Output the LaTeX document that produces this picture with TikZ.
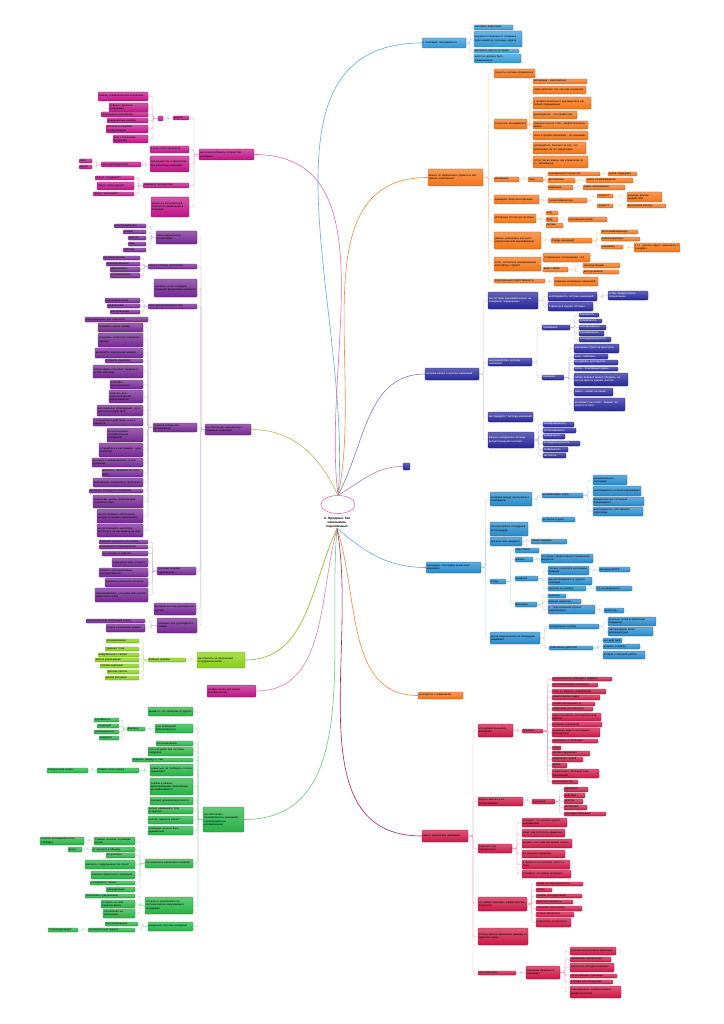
\documentclass[tikz,border=0pt]{standalone}
\usepackage{fontspec}
\setmainfont{Liberation Sans}
\usetikzlibrary{calc,shapes.geometric}
\definecolor{cT}{HTML}{2F98D8}
\definecolor{cO}{HTML}{F47316}
\definecolor{cI}{HTML}{26269A}
\definecolor{cP}{HTML}{2589CC}
\definecolor{cR}{HTML}{CC1644}
\definecolor{cM}{HTML}{C01286}
\definecolor{cU}{HTML}{742692}
\definecolor{cL}{HTML}{88D014}
\definecolor{cG}{HTML}{25B245}
\newcommand\sz{\fontsize{2.7}{3.15}\selectfont}
\tikzset{
 bxs/.style={rounded corners=1pt, inner xsep=0.8pt, inner ysep=0.3pt, font=\sz, align=left,
   draw=#1!70!black, line width=0.15pt, top color=#1!72!white, bottom color=#1, text=black},
 tb/.style={bxs=cT}, ob/.style={bxs=cO}, ib/.style={bxs=cI,text=white}, pb/.style={bxs=cP},
 rb/.style={bxs=cR}, mb/.style={bxs=cM}, ub/.style={bxs=cU}, lb/.style={bxs=cL}, gb/.style={bxs=cG},
 cn/.style={draw=#1, line width=0.35pt, rounded corners=2pt},
 lT/.style={cn=cT!40!white}, lO/.style={cn=cO!40!white}, lI/.style={cn=cI!30!white},
 lP/.style={cn=cP!40!white}, lR/.style={cn=cR!40!white}, lM/.style={cn=cM!40!white},
 lU/.style={cn=cU!35!white}, lL/.style={cn=cL!50!white}, lG/.style={cn=cG!45!white},
 mc/.style={draw=#1, line width=0.6pt},
}
\newcommand\Bx[7]{\pgfmathsetmacro\bw{#5-#3}\pgfmathsetmacro\bh{#6-#4}\pgfmathsetmacro\bt{#5-#3-1.6}%
 \pgfmathsetmacro\bxc{(#3+#5)/2}\pgfmathsetmacro\byc{(#4+#6)/2}%
 \node[#1,minimum width=\bw pt,minimum height=\bh pt,text width=\bt pt] (#2) at (\bxc,\byc) {#7};}
\newcommand\conR[3]{\foreach \ch in {#3}{\draw[#1] let \p1=(#2.east), \p2=(\ch.west) in (\p1) -- ({(\x1+\x2)/2},\y1) |- (\p2);}}
\newcommand\conL[3]{\foreach \ch in {#3}{\draw[#1] let \p1=(#2.west), \p2=(\ch.east) in (\p1) -- ({(\x1+\x2)/2},\y1) |- (\p2);}}
\begin{document}
\begin{tikzpicture}[x=1pt,y=-1pt]
\fill[white] (0,0) rectangle (723,1024);
\useasboundingbox (0,0) rectangle (723,1024);
% centre
\node[draw=cM!70, line width=0.5pt, ellipse, minimum width=34pt, minimum height=18pt] (ell) at (338,504.5) {};
\node[font=\bfseries\fontsize{3.2}{3.8}\selectfont, align=center, inner sep=0.5pt] (ttl) at (337,522.5) {А. Фридман. Как\\наказывать\\подчиненных};
% ===== teal
\Bx{tb}{t0}{422}{38}{466}{48}{о "зоопарке" менеджмента}
\Bx{tb}{t1}{474}{25}{513}{30}{полезные персонажи}
\Bx{tb}{t2}{474}{31}{522}{47}{научиться получать от полезных персонажей их полезные задачи}
\Bx{tb}{t3}{474}{49}{519}{53}{увольнять никого не нужно}
\Bx{tb}{t4}{474}{54}{521}{63}{никто не должен быть незаменимым}
\conR{lT}{t0}{t1,t2,t3,t4}
% ===== orange
\Bx{ob}{o0}{428}{169}{483}{186}{можно ли эффективно управлять без умения наказывать?}
\Bx{ob}{o1}{494}{69}{535}{78}{точность системы управления}
\Bx{ob}{o2}{494}{119}{527}{129}{постулаты менеджмента}
\Bx{ob}{o21}{533}{79}{587}{84}{мотивация - комплексная}
\Bx{ob}{o22}{533}{86}{586}{94}{люди работают так, как ими управляют}
\Bx{ob}{o23}{533}{97}{591}{109}{у профессионального руководителя нет плохих подчиненных}
\Bx{ob}{o24}{533}{111}{577}{119}{руководитель - это профессия}
\Bx{ob}{o25}{533}{121}{588}{129}{лидером нельзя стать, профессионалом - можно}
\Bx{ob}{o26}{533}{131}{588}{140}{опыт и профессионализм - не синонимы}
\Bx{ob}{o27}{533}{142}{586}{154}{руководитель отвечает за все, что происходит на его территории}
\Bx{ob}{o28}{533}{156}{588}{168}{отбор так же важен, как управление (в т.ч. мотивация)}
\Bx{ob}{o3}{494}{177}{519}{182}{мотивация}
\Bx{ob}{o31}{528}{177}{543}{182}{типы}
\Bx{ob}{o311}{548}{172}{600}{176}{принадлежность/участие}
\Bx{ob}{o312}{608}{172}{637}{176}{нужна поддержка}
\Bx{ob}{o313}{548}{178}{575}{183}{достижение}
\Bx{ob}{o314}{586}{178}{633}{183}{нужно вознаграждение}
\Bx{ob}{o315}{548}{185}{573}{190}{избегание}
\Bx{ob}{o316}{583}{185}{625}{190}{нужно принуждение}
\Bx{ob}{o4}{494}{195}{539}{204}{принципы проф.эксплуатации}
\Bx{ob}{o41}{548}{198}{587}{203}{теория Макгрегора}
\Bx{ob}{o42}{597}{194}{613}{198}{теория X}
\Bx{ob}{o43}{627}{192}{662}{202}{внешние формы воздействия}
\Bx{ob}{o44}{597}{204}{613}{208}{теория Y}
\Bx{ob}{o45}{627}{204}{666}{208}{внутренние методы}
\Bx{ob}{o5}{494}{214}{536}{223}{мотивация против дисциплины}
\Bx{ob}{o51}{546}{211}{558}{215}{хочу}
\Bx{ob}{o52}{546}{217}{558}{222}{буду}
\Bx{ob}{o53}{546}{223}{563}{228}{должен}
\Bx{ob}{o54}{568}{217}{607}{222}{осознанный выбор}
\Bx{ob}{o6}{494}{232}{541}{249}{умение наказывать как часть управленческой квалификации}
\Bx{ob}{o61}{551}{238}{592}{243}{3 вида наказаний}
\Bx{ob}{o62}{601}{230}{638}{234}{восстанавливающее}
\Bx{ob}{o63}{601}{237}{640}{241}{компенсирующее}
\Bx{ob}{o64}{601}{245}{623}{249}{наказание}
\Bx{ob}{o65}{634}{243}{680}{252}{в т.ч. умение скрыто наказывать и поощрять}
\Bx{ob}{o7}{494}{257}{541}{271}{стоит ли бояться возникновения атмосферы страха?}
\Bx{ob}{o71}{543}{253}{590}{262}{оптимальное соотношение - 4:1}
\Bx{ob}{o72}{543}{267}{568}{272}{виды страха}
\Bx{ob}{o73}{583}{263}{620}{268}{конструктивный}
\Bx{ob}{o74}{583}{270}{619}{274}{деструктивный}
\Bx{ob}{o8}{494}{279}{545}{283}{персональная ответственность}
\Bx{ob}{o81}{554}{277}{598}{286}{перечень возможных наказаний}
\conR{lO}{o0}{o1,o2,o3,o4,o5,o6,o7,o8}
\conR{lO}{o2}{o21,o22,o23,o24,o25,o26,o27,o28}
\conR{lO}{o3}{o31}\conR{lO}{o31}{o311,o313,o315}
\conR{lO}{o311}{o312}\conR{lO}{o313}{o314}\conR{lO}{o315}{o316}
\conR{lO}{o4}{o41}\conR{lO}{o41}{o42,o44}\conR{lO}{o42}{o43}\conR{lO}{o44}{o45}
\conR{lO}{o5}{o51,o52,o53}\conR{lO}{o52}{o54}
\conR{lO}{o6}{o61}\conR{lO}{o61}{o62,o63,o64}\conR{lO}{o64}{o65}
\conR{lO}{o7}{o71,o72}\conR{lO}{o72}{o73,o74}
\conR{lO}{o8}{o81}
% ===== indigo
\Bx{ib}{i0}{425}{368}{479}{380}{система мягких и жестких наказаний}
\Bx{ib}{i1}{488}{292}{538}{309}{как система наказаний влияет на поведение подчиненных}
\Bx{ib}{i11}{548}{292}{597}{301}{необходимость системы наказаний}
\Bx{ib}{i12}{608}{291}{648}{300}{чтобы правила были прозрачными}
\Bx{ib}{i13}{548}{302}{593}{311}{5 факторов оценки системы}
\Bx{ib}{i2}{488}{358}{532}{366}{как разработать систему наказаний}
\Bx{ib}{i21}{542}{325}{570}{330}{требования}
\Bx{ib}{i211}{579}{313}{599}{317}{понятность}
\Bx{ib}{i212}{579}{319}{602}{323}{прозрачность}
\Bx{ib}{i213}{579}{325}{606}{330}{неотвратимость}
\Bx{ib}{i214}{579}{331}{604}{336}{соразмерность}
\Bx{ib}{i215}{579}{337}{611}{342}{последовательность}
\Bx{ib}{i22}{542}{375}{564}{380}{принципы}
\Bx{ib}{i221}{574}{344}{619}{353}{наказание строго за проступок}
\Bx{ib}{i222}{574}{354}{608}{359}{вина - публично}
\Bx{ib}{i223}{574}{360}{618}{365}{не унижать достоинство}
\Bx{ib}{i224}{574}{367}{618}{371}{после - позитивный прием}
\Bx{ib}{i225}{574}{373}{628}{386}{любое правило можно обсудить, но нельзя менять задним числом}
\Bx{ib}{i226}{574}{388}{613}{396}{забыл - значит не понял}
\Bx{ib}{i227}{574}{398}{625}{411}{не бывает "не успел" - бывает "не захотел успеть"}
\Bx{ib}{i3}{488}{412}{533}{422}{как "внедрять" систему наказаний}
\Bx{ib}{i4}{488}{432}{534}{448}{вопросы внедрения системы дисциплинарной политики}
\Bx{ib}{i41}{543}{422}{574}{427}{своевременность}
\Bx{ib}{i42}{543}{428}{576}{433}{согласованность}
\Bx{ib}{i43}{543}{434}{565}{439}{прозрачность}
\Bx{ib}{i44}{543}{441}{580}{446}{последовательность}
\Bx{ib}{i45}{543}{447}{568}{452}{стабильность}
\Bx{ib}{i46}{543}{453}{566}{458}{честность}
\conR{lI}{i0}{i1,i2,i3,i4}
\conR{lI}{i1}{i11,i13}\conR{lI}{i11}{i12}
\conR{lI}{i2}{i21,i22}\conR{lI}{i21}{i211,i212,i213,i214,i215}
\conR{lI}{i22}{i221,i222,i223,i224,i225,i226,i227}
\conR{lI}{i4}{i41,i42,i43,i44,i45,i46}
\Bx{ib}{s0}{403}{463}{410}{470}{}
% ===== procedure blue
\Bx{pb}{p0}{426}{562}{481}{573}{процедура и методика вынесения наказания}
\Bx{pb}{p1}{490}{492}{532}{506}{интервал между проступком и наказанием}
\Bx{pb}{p11}{542}{493}{583}{498}{не наказывать сразу}
\Bx{pb}{p111}{593}{475}{627}{485}{эмоциональное состояние}
\Bx{pb}{p112}{593}{486}{641}{496}{необходимость полной информации}
\Bx{pb}{p113}{593}{497}{644}{506}{эмоциональное состояние подчиненного}
\Bx{pb}{p114}{593}{507}{643}{516}{необходимость собственной подготовки}
\Bx{pb}{p12}{542}{517}{575}{522}{не более 2 дней}
\Bx{pb}{p2}{490}{522}{528}{536}{как приглашать сотрудника на процедуру}
\Bx{pb}{p3}{490}{537}{522}{546}{при всех или наедине?}
\Bx{pb}{p31}{531}{539}{567}{544}{только наедине}
\Bx{pb}{p4}{490}{579}{506}{584}{этапы}
\Bx{pb}{p41}{515}{548}{539}{553}{подготовка}
\Bx{pb}{p42}{515}{557}{533}{562}{начало}
\Bx{pb}{p421}{541}{554}{593}{563}{10 правил эффективного применения вопросов}
\Bx{pb}{p43}{515}{576}{538}{581}{конфликт}
\Bx{pb}{p431}{548}{566}{589}{575}{тренинг усилителя негативных реакций}
\Bx{pb}{p432}{599}{567}{630}{572}{методика BOFF}
\Bx{pb}{p433}{548}{577}{592}{585}{как разговаривать в трудной ситуации}
\Bx{pb}{p434}{548}{586}{586}{591}{"вычеты за ошибку"}
\Bx{pb}{p435}{596}{586}{632}{591}{0:1 контраргумент}
\Bx{pb}{p44}{515}{602}{537}{607}{фиксация}
\Bx{pb}{p441}{548}{594}{566}{598}{решение}
\Bx{pb}{p442}{548}{599}{581}{604}{важные моменты}
\Bx{pb}{p443}{548}{605}{595}{614}{п. "персональной стрелы" подчиненного}
\Bx{pb}{p444}{604}{608}{624}{613}{проблемы}
\Bx{pb}{p5}{490}{632}{540}{644}{выход подчиненного из процедуры наказания}
\Bx{pb}{p51}{549}{624}{599}{629}{исправление ошибки}
\Bx{pb}{p511}{608}{617}{656}{626}{указание путей исправления поведения}
\Bx{pb}{p512}{608}{627}{653}{636}{"заглаживание вины" руководителем}
\Bx{pb}{p52}{549}{646}{593}{650}{позитивные действия}
\Bx{pb}{p521}{603}{638}{622}{643}{нет действий}
\Bx{pb}{p522}{603}{644}{640}{649}{немного похвалы}
\Bx{pb}{p523}{603}{651}{645}{659}{возврат к обычной работе}
\conR{lP}{p0}{p1,p2,p3,p4,p5}
\conR{lP}{p1}{p11,p12}\conR{lP}{p11}{p111,p112,p113,p114}
\conR{lP}{p3}{p31}
\conR{lP}{p4}{p41,p42,p43,p44}\conR{lP}{p42}{p421}
\conR{lP}{p43}{p431,p433,p434}\conR{lP}{p431}{p432}\conR{lP}{p434}{p435}
\conR{lP}{p44}{p441,p442,p443}\conR{lP}{p443}{p444}
\conR{lP}{p5}{p51,p52}\conR{lP}{p51}{p511,p512}\conR{lP}{p52}{p521,p522,p523}
% ===== small orange
\Bx{ob}{q0}{418}{692}{463}{699}{не медлите с наказанием}
% ===== red
\Bx{rb}{r0}{422}{830}{468}{842}{цели и результаты наказания}
\Bx{rb}{r1}{478}{724}{513}{737}{что должно вызывать наказание}
\Bx{rb}{r11}{522}{729}{543}{733}{признаки}
\Bx{rb}{r1a}{552}{677}{612}{681}{неспособность соблюдать правила}
\Bx{rb}{r1b}{552}{683}{598}{687}{систематические опоздания}
\Bx{rb}{r1c}{552}{689}{606}{694}{ложь и сокрытие информации}
\Bx{rb}{r1d}{552}{695}{600}{700}{невыполнение задач}
\Bx{rb}{r1e}{552}{702}{595}{706}{слабая вовлеченность}
\Bx{rb}{r1f}{552}{707}{593}{711}{нарушение регламентов}
\Bx{rb}{r1g}{552}{713}{601}{721}{недостаточность исполнительской работы}
\Bx{rb}{r1h}{552}{722}{602}{727}{пропуски совещаний}
\Bx{rb}{r1i}{552}{728}{600}{737}{неумение видеть негативные последствия}
\Bx{rb}{r1j}{552}{739}{598}{743}{склонность к "болтовне"}
\Bx{rb}{r1k}{552}{746}{561}{750}{споры}
\Bx{rb}{r1l}{552}{751}{590}{756}{мелкие нарушения}
\Bx{rb}{r1m}{552}{757}{583}{762}{нарушение сроков}
\Bx{rb}{r1n}{552}{763}{567}{768}{кражи}
\Bx{rb}{r1o}{552}{769}{599}{778}{стремление к большей зоне полномочий}
\Bx{rb}{r1p}{552}{780}{578}{784}{вымогательство}
\Bx{rb}{r2}{478}{797}{523}{806}{модель Бассея и ее использование}
\Bx{rb}{r21}{532}{799}{555}{804}{6 уровней}
\Bx{rb}{r211}{564}{787}{588}{792}{окружение}
\Bx{rb}{r212}{564}{793}{585}{798}{действие}
\Bx{rb}{r213}{564}{799}{583}{804}{чувство}
\Bx{rb}{r214}{564}{805}{587}{810}{мотивация}
\Bx{rb}{r215}{564}{812}{606}{816}{самоидентификация}
\Bx{rb}{r3}{478}{844}{512}{853}{результат для подчиненного}
\Bx{rb}{r31}{522}{818}{567}{827}{понимает, что именно сделал неправильно}
\Bx{rb}{r32}{522}{829}{565}{837}{знает, как поступить правильно}
\Bx{rb}{r33}{522}{839}{572}{848}{уверен, что с ним поступили честно}
\Bx{rb}{r34}{522}{850}{565}{858}{не ощущает унижения}
\Bx{rb}{r35}{522}{860}{570}{869}{в процессе испытывает злость и стыд}
\Bx{rb}{r36}{522}{870}{571}{878}{понимает, что можно исправить}
\Bx{rb}{r4}{478}{897}{527}{911}{что может помешать эффективному результату}
\Bx{rb}{r41}{536}{882}{583}{886}{обида на персональность}
\Bx{rb}{r42}{536}{888}{552}{892}{злость}
\Bx{rb}{r43}{536}{894}{582}{898}{ошибки интерпретации}
\Bx{rb}{r44}{536}{900}{573}{904}{безответственность}
\Bx{rb}{r45}{536}{906}{582}{911}{снижение самооценки}
\Bx{rb}{r46}{536}{912}{574}{917}{потеря авторитета}
\Bx{rb}{r47}{536}{918}{571}{927}{нарушение дисциплины}
\Bx{rb}{r5}{478}{928}{528}{945}{почему нельзя наказывать дважды за один проступок}
\Bx{rb}{r6}{478}{971}{516}{975}{как наказывать}
\Bx{rb}{r61}{526}{966}{560}{979}{принципы начального наказания}
\Bx{rb}{r611}{570}{947}{616}{955}{ограниченный размер наказания}
\Bx{rb}{r612}{570}{957}{611}{962}{неизменная дисциплина}
\Bx{rb}{r613}{570}{963}{614}{972}{открытость метода наказания}
\Bx{rb}{r614}{570}{974}{617}{978}{согласованные принципы}
\Bx{rb}{r615}{570}{980}{613}{984}{штрафы или поощрения}
\Bx{rb}{r616}{570}{986}{621}{998}{невозможность компенсировать ущерб выплатой}
\conR{lR}{r0}{r1,r2,r3,r4,r5,r6}
\conR{lR}{r1}{r11}\conR{lR}{r11}{r1a,r1b,r1c,r1d,r1e,r1f,r1g,r1h,r1i,r1j,r1k,r1l,r1m,r1n,r1o,r1p}
\conR{lR}{r2}{r21}\conR{lR}{r21}{r211,r212,r213,r214,r215}
\conR{lR}{r3}{r31,r32,r33,r34,r35,r36}
\conR{lR}{r4}{r41,r42,r43,r44,r45,r46,r47}
\conR{lR}{r6}{r61}\conR{lR}{r61}{r611,r612,r613,r614,r615,r616}
% ===== magenta (top left)
\Bx{mb}{m0}{199}{149}{254}{160}{как можно избежать сложностей наказания}
\Bx{mb}{m1}{173}{116}{189}{120}{модели}
\Bx{mb}{m11}{158}{116}{163}{121}{}
\Bx{mb}{m111}{98}{92}{148}{101}{ложная управленческая концепция}
\Bx{mb}{m112}{109}{103}{148}{112}{дефицит времени сотрудника}
\Bx{mb}{m113}{101}{112}{148}{117}{отношения в коллективе}
\Bx{mb}{m114}{107}{118}{148}{123}{неадекватные ошибки}
\Bx{mb}{m115}{106}{125}{148}{133}{высокая экспертная специализация}
\Bx{mb}{m116}{113}{135}{148}{143}{риск с большими ресурсами}
\Bx{mb}{m2}{150}{146}{189}{153}{в зону ответственности}
\Bx{mb}{m3}{150}{156}{189}{172}{преимущества и недостатки при различных подходах}
\Bx{mb}{m31}{101}{162}{141}{167}{типы руководителей}
\Bx{mb}{m311}{79}{159}{92}{163}{типа}
\Bx{mb}{m312}{79}{165}{92}{169}{другие}
\Bx{mb}{m4}{143}{183}{189}{188}{значимые последствия}
\Bx{mb}{m41}{95}{176}{134}{180}{"фокус "страдания""}
\Bx{mb}{m42}{97}{182}{134}{190}{"фокус принуждения"}
\Bx{mb}{m43}{93}{192}{134}{196}{"фокус "молчания""}
\Bx{mb}{m5}{151}{197}{189}{217}{кризис на исполнителей опасности применения в ситуации}
\conL{lM}{m0}{m1,m2,m3,m4,m5}
\conL{lM}{m1}{m11}\conL{lM}{m11}{m111,m112,m113,m114,m115,m116}
\conL{lM}{m3}{m31}\conL{lM}{m31}{m311,m312}
\conL{lM}{m4}{m41,m42,m43}
% ===== purple
\Bx{ub}{u0}{205}{424}{251}{435}{как обеспечить дисциплину с помощью наказаний}
\Bx{ub}{u1}{156}{231}{197}{244}{типы нарушителей дисциплины}
\Bx{ub}{u11}{114}{224}{146}{228}{злоупотребления}
\Bx{ub}{u12}{123}{230}{146}{234}{ошибки}
\Bx{ub}{u13}{128}{236}{146}{240}{хамство}
\Bx{ub}{u14}{128}{242}{146}{246}{лень}
\Bx{ub}{u15}{123}{248}{146}{252}{саботаж}
\Bx{ub}{u2}{148}{264}{197}{269}{типы и степень проступков}
\Bx{ub}{u21}{103}{256}{140}{260}{систематические}
\Bx{ub}{u22}{106}{262}{140}{266}{единовременные}
\Bx{ub}{u23}{110}{267}{140}{272}{умышленные}
\Bx{ub}{u24}{110}{273}{140}{278}{неумышленные}
\Bx{ub}{u3}{154}{279}{197}{297}{как быть, если сотрудник нарушает дисциплину публично}
\Bx{ub}{u4}{148}{304}{197}{309}{типы дисциплинарных мер}
\Bx{ub}{u41}{105}{298}{140}{303}{информационные}
\Bx{ub}{u42}{107}{304}{140}{308}{ограничения}
\Bx{ub}{u43}{110}{310}{140}{314}{материальные}
\Bx{ub}{u5}{153}{423}{197}{432}{правила поведения руководителя}
\Bx{ub}{u51}{85}{317}{148}{322}{информировать для себя цель}
\Bx{ub}{u52}{98}{323}{143}{332}{проверить нужно правду}
\Bx{ub}{u53}{98}{333}{143}{347}{продумать стратегию поведения заранее}
\Bx{ub}{u54}{95}{348}{143}{358}{выбирайте подходящий момент}
\Bx{ub}{u55}{105}{359}{143}{363}{проявить уважение}
\Bx{ub}{u56}{93}{365}{143}{378}{использовать понятные термины и четкие критерии}
\Bx{ub}{u57}{110}{380}{143}{389}{избегайте категоричности}
\Bx{ub}{u58}{109}{390}{143}{403}{смягчить для психологической вовлеченности}
\Bx{ub}{u59}{97}{405}{143}{416}{категоричные утверждения - для жесткого воздействия}
\Bx{ub}{u5a}{93}{418}{143}{426}{о поведении и действиях, а не о личности}
\Bx{ub}{u5b}{107}{428}{143}{442}{не использовать оскорбительных обобщений}
\Bx{ub}{u5c}{99}{443}{143}{457}{оставайтесь в настоящем - одна проблема}
\Bx{ub}{u5d}{92}{458}{143}{467}{выяснить и зафиксировать, в чем проблема}
\Bx{ub}{u5e}{102}{469}{143}{477}{выяснить, понимает ли свою вину}
\Bx{ub}{u5f}{93}{478}{143}{487}{фиксировать сказанное в "протоколе"}
\Bx{ub}{u5g}{89}{489}{143}{493}{достигать обоюдного понимания}
\Bx{ub}{u5h}{93}{495}{143}{508}{предлагать выход, позволяющий сохранить лицо}
\Bx{ub}{u5i}{97}{509}{143}{523}{контролировать собственные эмоции и эмоции подчиненного}
\Bx{ub}{u5j}{97}{524}{143}{537}{не рассчитывать на полное согласие и не настаивать на нем}
\Bx{ub}{u6}{157}{567}{196}{575}{признаки реакции подчиненного}
\Bx{ub}{u61}{99}{540}{148}{544}{безответственность на словах}
\Bx{ub}{u62}{99}{545}{148}{549}{возражения и опровержения}
\Bx{ub}{u63}{102}{551}{148}{556}{не слышать и избегать}
\Bx{ub}{u64}{112}{558}{148}{567}{когда допустимо "уходить"}
\Bx{ub}{u65}{99}{568}{148}{577}{избегать провокационных контраргументов}
\Bx{ub}{u66}{105}{578}{148}{587}{проявлять реальное согласие}
\Bx{ub}{u67}{95}{588}{148}{602}{сигнализировать, что реальной угрозой может быть отказ}
\Bx{ub}{u7}{154}{603}{196}{615}{критерии как сам руководитель должен}
\Bx{ub}{u8}{157}{618}{197}{633}{типичные для руководителя ошибки}
\Bx{ub}{u81}{86}{619}{145}{623}{эмоциональный ошибочный выход}
\Bx{ub}{u82}{106}{624}{145}{632}{точное исполнение правил}
\conL{lU}{u0}{u1,u2,u3,u4,u5,u6,u7,u8}
\conL{lU}{u1}{u11,u12,u13,u14,u15}
\conL{lU}{u2}{u21,u22,u23,u24}
\conL{lU}{u4}{u41,u42,u43}
\conL{lU}{u5}{u51,u52,u53,u54,u55,u56,u57,u58,u59,u5a,u5b,u5c,u5d,u5e,u5f,u5g,u5h,u5i,u5j}
\conL{lU}{u6}{u61,u62,u63,u64,u65,u66,u67}
\conL{lU}{u8}{u81,u82}
% ===== lime
\Bx{lb}{l0}{197}{652}{245}{668}{как ответить на брошенный сотрудником вызов}
\Bx{lb}{l1}{148}{658}{186}{662}{базовые приемы}
\Bx{lb}{l11}{106}{639}{139}{643}{игнорирование}
\Bx{lb}{l12}{105}{647}{139}{651}{"удачная" поза}
\Bx{lb}{l13}{98}{653}{139}{657}{невербальная "связка"}
\Bx{lb}{l14}{95}{658}{139}{662}{мягкое уменьшение}
\Bx{lb}{l15}{100}{664}{139}{668}{"мягкая картинка"}
\Bx{lb}{l16}{107}{670}{139}{674}{рассказ-притча}
\Bx{lb}{l17}{105}{676}{139}{680}{мягкая риторика}
\conL{lL}{l0}{l1}\conL{lL}{l1}{l11,l12,l13,l14,l15,l16,l17}
% ===== small magenta
\Bx{mb}{n0}{207}{685}{256}{697}{конфронтация при явном неповиновении}
% ===== green
\Bx{gb}{g0}{203}{807}{244}{832}{как обеспечить справедливость наказаний и реагировать на неповиновение}
\Bx{gb}{g1}{148}{707}{193}{716}{делай то, что требуешь от других}
\Bx{gb}{g2}{155}{724}{193}{733}{учет возможной субъективности}
\Bx{gb}{g21}{127}{727}{145}{731}{факторы}
\Bx{gb}{g211}{94}{718}{119}{722}{случайность}
\Bx{gb}{g212}{97}{724}{119}{728}{тенденция}
\Bx{gb}{g213}{94}{730}{119}{734}{закономерность}
\Bx{gb}{g214}{99}{736}{119}{740}{традиция}
\Bx{gb}{g3}{156}{741}{193}{746}{об исключениях}
\Bx{gb}{g4}{148}{747}{193}{756}{если ситуация вне системы координат}
\Bx{gb}{g5}{132}{758}{193}{762}{отделить правду от лжи}
\Bx{gb}{g6}{150}{764}{193}{776}{правильно ли требовать со всех одинаково?}
\Bx{gb}{g61}{97}{768}{139}{773}{создать свою оценку}
\Bx{gb}{g611}{47}{768}{88}{773}{определение нормы}
\Bx{gb}{g7}{150}{778}{193}{795}{ошибки в рамках делегированных полномочий не наказываются}
\Bx{gb}{g8}{150}{797}{193}{805}{принцип доверия/вероятности}
\Bx{gb}{g9}{148}{807}{193}{814}{нельзя наказывать "для острастки"}
\Bx{gb}{g10}{148}{816}{193}{824}{нельзя "наказать заочно"}
\Bx{gb}{g11}{148}{826}{193}{835}{наказание должно быть адекватным}
\Bx{gb}{g12}{145}{859}{193}{868}{как научиться наказывать вовремя}
\Bx{gb}{g121}{94}{837}{135}{845}{"слабые сигналы" и реакция на них}
\Bx{gb}{g1211}{40}{837}{84}{845}{попытки расширения зоны "свободы"}
\Bx{gb}{g122}{92}{847}{135}{852}{от частного к общему}
\Bx{gb}{g1221}{68}{847}{82}{852}{фокус}
\Bx{gb}{g123}{106}{853}{135}{858}{не догонять}
\Bx{gb}{g124}{85}{860}{135}{869}{как быть с нарушением "во благо"}
\Bx{gb}{g125}{91}{871}{135}{879}{признак правильного наказания}
\Bx{gb}{g126}{90}{881}{135}{885}{о конфликте "жизни"}
\Bx{gb}{g127}{106}{887}{135}{892}{субординация}
\Bx{gb}{g13}{145}{897}{193}{914}{готовность реагировать на систематически нарушающего сотрудника}
\Bx{gb}{g131}{85}{894}{135}{898}{отношение к увольнению}
\Bx{gb}{g132}{101}{900}{135}{908}{не брать на себя слишком много}
\Bx{gb}{g133}{103}{909}{135}{918}{полномочия на увольнение}
\Bx{gb}{g14}{148}{922}{193}{931}{внедрение системы координат}
\Bx{gb}{g141}{105}{922}{138}{926}{прогнозирование}
\Bx{gb}{g142}{88}{928}{135}{932}{тренировочный период}
\Bx{gb}{g1421}{48}{928}{78}{932}{"опека/адаптация"}
\conL{lG}{g0}{g1,g2,g3,g4,g5,g6,g7,g8,g9,g10,g11,g12,g13,g14}
\conL{lG}{g2}{g21}\conL{lG}{g21}{g211,g212,g213,g214}
\conL{lG}{g6}{g61}\conL{lG}{g61}{g611}
\conL{lG}{g12}{g121,g122,g123,g124,g125,g126,g127}
\conL{lG}{g121}{g1211}\conL{lG}{g122}{g1221}
\conL{lG}{g13}{g131,g132,g133}
\conL{lG}{g14}{g141,g142}\conL{lG}{g142}{g1421}
% ===== main curves
\draw[mc=cT!60!teal!70] (ell.north) to[out=85,in=180] (t0.west);
\draw[mc=cO!85] (ell.north) to[out=78,in=180] (o0.west);
\draw[mc=cI!60] (ell.north) to[out=62,in=180] (i0.west);
\draw[mc=cU!60] (ell.north) to[out=30,in=180] (s0.west);
\draw[mc=cP!70] (ttl.south) to[out=-40,in=180] (p0.west);
\draw[mc=cO!85] (ttl.south) to[out=-72,in=180] (q0.west);
\draw[mc=cR!65!cU] (ttl.south) to[out=-80,in=180] (r0.west);
\draw[mc=cM!60] (ell.north) to[out=97,in=0] (m0.east);
\draw[mc=olive!60] (ell.north) to[out=115,in=0] (u0.east);
\draw[mc=cL!80!olive] (ttl.south) to[out=-115,in=0] (l0.east);
\draw[mc=cM!55] (ttl.south) to[out=-105,in=0] (n0.east);
\draw[mc=cG!70] (ttl.south) to[out=-95,in=0] (g0.east);
\end{tikzpicture}
\end{document}
